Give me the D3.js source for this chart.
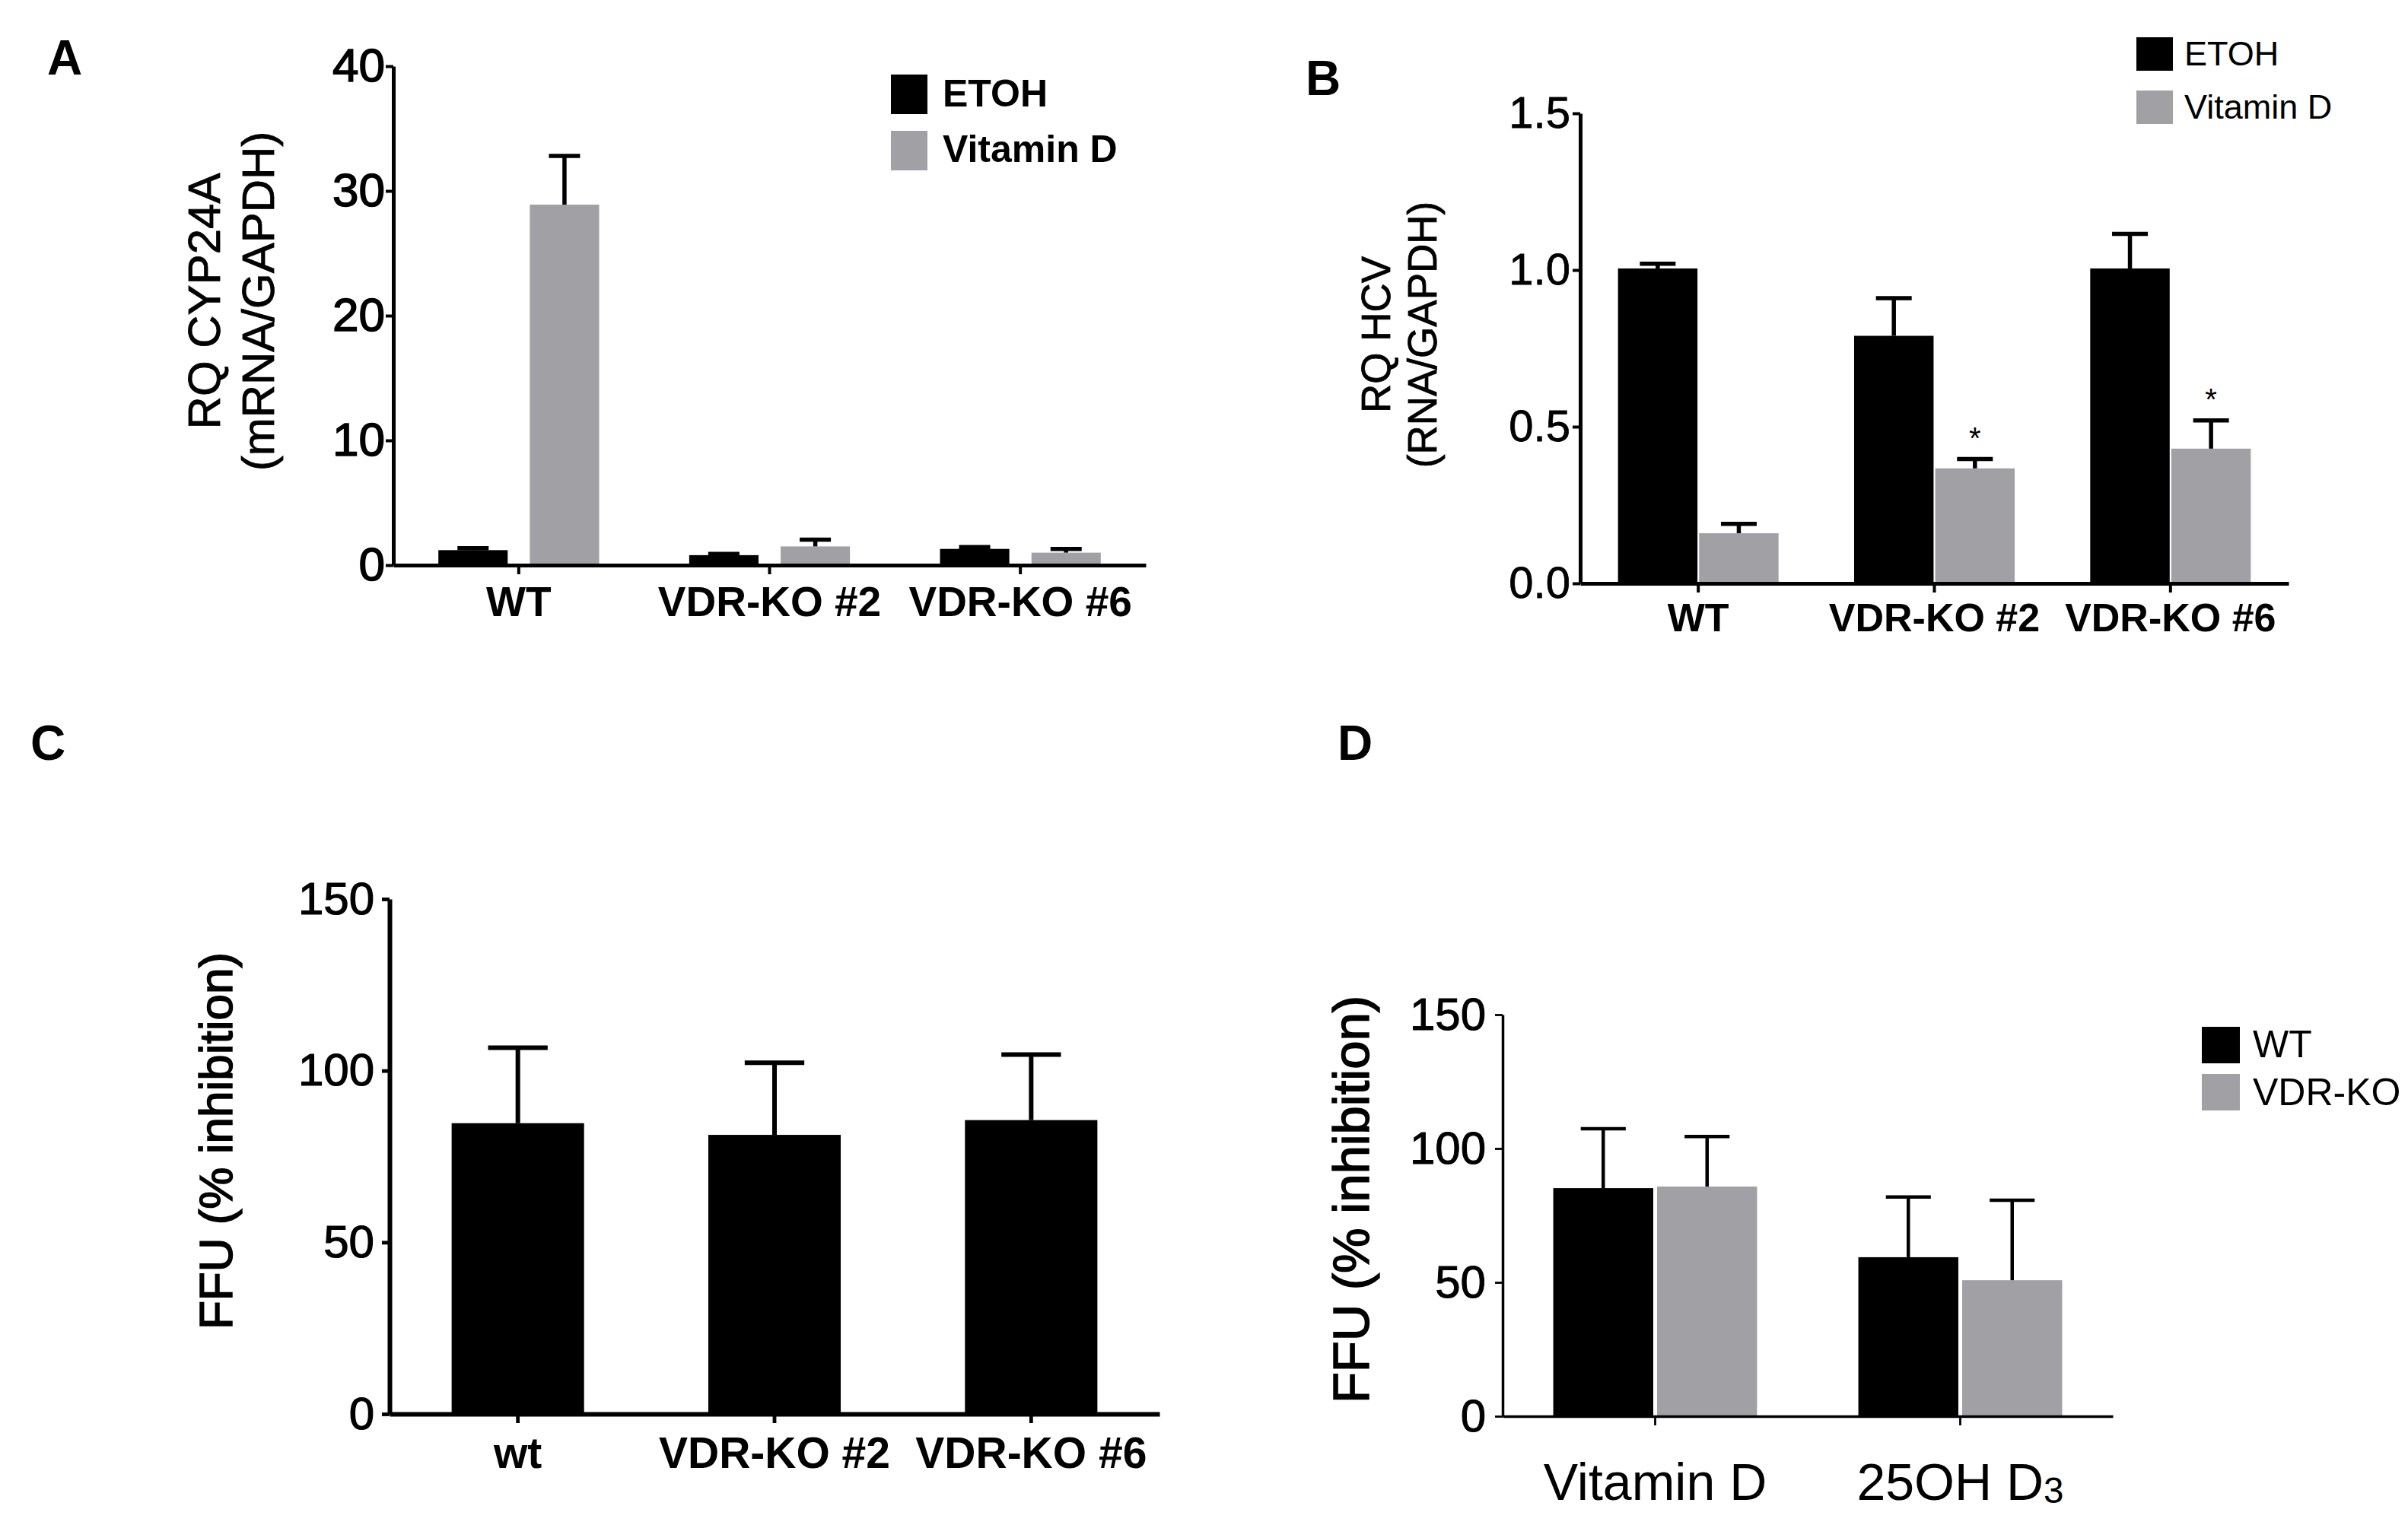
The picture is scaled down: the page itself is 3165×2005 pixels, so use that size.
<!DOCTYPE html>
<html>
<head>
<meta charset="utf-8">
<script src="https://cdn.jsdelivr.net/npm/d3@7/dist/d3.min.js"></script>
<style>
  html, body { margin: 0; padding: 0; background: #fff; }
  svg { display: block; }
  text { font-family: "Liberation Sans", Arial, sans-serif; fill: #000; }
</style>
</head>
<body>
<svg id="chart" width="3165" height="2005"></svg>
<script>
// ---------------- DATA ----------------
// Panel A: RQ CYP24A (mRNA/GAPDH)
const groupsA = ["WT", "VDR-KO #2", "VDR-KO #6"];
const etohA = [1.2, 0.8, 1.3];
const etohErrA = [0.15, 0.1, 0.15];
const vitDA = [28.9, 1.5, 1.0];
const vitDErrA = [3.9, 0.55, 0.3];
const ticksA = [0, 10, 20, 30, 40];

// Panel B: RQ HCV (RNA/GAPDH)
const groupsB = ["WT", "VDR-KO #2", "VDR-KO #6"];
const etohB = [1.005, 0.79, 1.005];
const etohErrB = [0.015, 0.12, 0.11];
const vitDB = [0.16, 0.367, 0.43];
const vitDErrB = [0.03, 0.03, 0.09];
const starsB = ["", "*", "*"];
const ticksB = [0, 0.5, 1.0, 1.5];

// Panel C: FFU (% inhibition)
const groupsC = ["wt", "VDR-KO #2", "VDR-KO #6"];
const valuesC = [84.7, 81.3, 85.6];
const errC = [22.0, 21.0, 19.1];
const ticksC = [0, 50, 100, 150];

// Panel D: FFU (% inhibition)
const groupsD = ["Vitamin D", "25OH D3"];
const wtD = [85.2, 59.4];
const wtErrD = [22.2, 22.5];
const koD = [85.8, 50.8];
const koErrD = [18.7, 29.9];
const ticksD = [0, 50, 100, 150];

const seriesAB = ["ETOH", "Vitamin D"];
const seriesD = ["WT", "VDR-KO"];

const BLACK = "#000000";
const GREY = "#a1a1a5";

// ---------------- DRAW ----------------
const svg = d3.select("#chart");
svg.append("rect").attr("width", 3165).attr("height", 2005).attr("fill", "#fff");

function drawPanel(o) {
  const g = svg.append("g");
  const y = d3.scaleLinear().domain(o.yDomain).range([o.yBottom, o.yTop]);
  const xg = d3.scaleBand().domain(o.groups).range([o.xLeft, o.xRight])
    .paddingInner(o.padG).paddingOuter(o.padG / 2);
  const xs = d3.scaleBand().domain(o.series.map(s => s.name)).range([0, xg.bandwidth()])
    .paddingInner(o.padS);

  // bars
  o.series.forEach(s => {
    const rows = o.groups.map((grp, i) => ({ grp, v: s.values[i], e: s.errs[i], star: s.stars ? s.stars[i] : "" }));
    g.append("g").selectAll("rect").data(rows).join("rect")
      .attr("x", d => xg(d.grp) + xs(s.name))
      .attr("width", xs.bandwidth())
      .attr("y", d => y(d.v))
      .attr("height", d => y(0) - y(d.v))
      .attr("fill", s.color);
    // error bars (upper only)
    const eb = g.append("g").attr("stroke", "#000").attr("stroke-width", o.errWidth).attr("fill", "none");
    rows.forEach(d => {
      const cx = xg(d.grp) + xs(s.name) + xs.bandwidth() / 2;
      const cw = xs.bandwidth() * 0.45;
      eb.append("line").attr("x1", cx).attr("x2", cx).attr("y1", y(d.v)).attr("y2", y(d.v + d.e));
      eb.append("line").attr("x1", cx - cw / 2).attr("x2", cx + cw / 2)
        .attr("y1", y(d.v + d.e)).attr("y2", y(d.v + d.e));
      if (d.star) {
        g.append("text").attr("x", cx).attr("y", y(d.v + d.e) - 39)
          .attr("text-anchor", "middle").attr("dominant-baseline", "central")
          .attr("font-size", 40).attr("dy", "0.28em").text(d.star);
      }
    });
  });

  // y axis
  const ya = g.append("g").attr("transform", `translate(${o.xLeft},0)`)
    .call(d3.axisLeft(y).tickValues(o.ticks).tickFormat(o.tickFormat)
      .tickSize(10).tickSizeOuter(0).tickPadding(o.tickPad));
  ya.select(".domain").attr("stroke-width", o.axisWidth).attr("stroke", "#000");
  ya.selectAll(".tick line").attr("stroke-width", o.axisWidth * 0.8).attr("stroke", "#000");
  ya.selectAll(".tick text").attr("font-size", o.tickFont).attr("font-family", "Liberation Sans, Arial, sans-serif")
    .attr("font-weight", "normal").attr("fill", "#000")
    .attr("stroke", "#000").attr("stroke-width", o.tickStroke || 0);

  // x axis
  const xa = g.append("g").attr("transform", `translate(0,${o.yBottom})`)
    .call(d3.axisBottom(xg).tickSize(12).tickSizeOuter(0).tickFormat(""));
  xa.select(".domain").attr("stroke-width", o.axisWidth).attr("stroke", "#000");
  xa.selectAll(".tick line").attr("stroke-width", o.axisWidth * 0.8).attr("stroke", "#000");
  xa.selectAll(".tick text").remove();

  // x labels
  o.groups.forEach((grp, i) => {
    const t = g.append("text").attr("x", xg(grp) + xg.bandwidth() / 2).attr("y", o.xLabelY)
      .attr("text-anchor", "middle").attr("font-size", o.xFont).attr("font-weight", o.xWeight);
    const m = grp.match(/^(.*D)3$/);
    if (m) {
      t.append("tspan").text(m[1]);
      t.append("tspan").attr("font-size", o.xFont * 0.7).attr("dy", 4).text("3");
    } else {
      t.text(grp);
    }
  });

  // y title
  const yc = o.yTitleY;
  o.yTitle.forEach((line, i) => {
    g.append("text")
      .attr("transform", `translate(${o.yTitleX[i]},${yc}) rotate(-90)`)
      .attr("text-anchor", "middle").attr("font-size", o.yTitleFont)
      .attr("stroke", "#000").attr("stroke-width", o.titleStroke || 0)
      .attr("font-weight", "normal").text(line);
  });

  // legend
  if (o.legend) {
    const L = o.legend;
    o.series.forEach((s, i) => {
      g.append("rect").attr("x", L.x).attr("y", L.ys[i]).attr("width", L.w).attr("height", L.h).attr("fill", s.color);
      g.append("text").attr("x", L.tx).attr("y", L.bases[i]).attr("font-size", L.font)
        .attr("font-weight", L.weight).text(s.name);
    });
  }

  // panel letter
  g.append("text").attr("x", o.letter.x).attr("y", o.letter.y)
    .attr("font-family", "Lato, 'Open Sans', sans-serif").attr("font-weight", "bold")
    .attr("font-size", 64).text(o.letter.t);
}

// Panel A
drawPanel({
  groups: groupsA,
  series: [
    { name: seriesAB[0], values: etohA, errs: etohErrA, color: BLACK },
    { name: seriesAB[1], values: vitDA, errs: vitDErrA, color: GREY }
  ],
  yDomain: [0, 40], ticks: ticksA, tickFormat: d3.format("d"),
  xLeft: 517, xRight: 1506, yBottom: 743, yTop: 87,
  padG: 0.359, padS: 0.242,
  axisWidth: 5, errWidth: 5.5, tickFont: 62, tickPad: 1, tickStroke: 1.5,
  xLabelY: 810, xFont: 55, xWeight: "bold",
  yTitle: ["RQ CYP24A", "(mRNA/GAPDH)"], yTitleX: [289, 360], yTitleY: 396, yTitleFont: 60, titleStroke: 0.8,
  legend: { x: 1171, ys: [98, 172], w: 48, h: 52, tx: 1239, bases: [140, 213], font: 50, weight: "bold" },
  letter: { x: 62, y: 98, t: "A" }
});

// Panel B
drawPanel({
  groups: groupsB,
  series: [
    { name: seriesAB[0], values: etohB, errs: etohErrB, color: BLACK },
    { name: seriesAB[1], values: vitDB, errs: vitDErrB, color: GREY, stars: starsB }
  ],
  yDomain: [0, 1.5], ticks: ticksB, tickFormat: d3.format(".1f"),
  xLeft: 2077, xRight: 3008, yBottom: 767, yTop: 149,
  padG: 0.32, padS: 0.02,
  axisWidth: 5, errWidth: 5.5, tickFont: 58, tickPad: 3, tickStroke: 0.8,
  xLabelY: 830, xFont: 52, xWeight: "bold",
  yTitle: ["RQ HCV", "(RNA/GAPDH)"], yTitleX: [1827, 1888], yTitleY: 440, yTitleFont: 53, titleStroke: 0.8,
  legend: { x: 2808, ys: [49, 119], w: 48, h: 44, tx: 2871, bases: [86, 156], font: 45, weight: "normal" },
  letter: { x: 1716, y: 125, t: "B" }
});

// Panel C
drawPanel({
  groups: groupsC,
  series: [
    { name: "FFU", values: valuesC, errs: errC, color: BLACK }
  ],
  yDomain: [0, 150], ticks: ticksC, tickFormat: d3.format("d"),
  xLeft: 512, xRight: 1524, yBottom: 1859, yTop: 1182,
  padG: 0.484, padS: 0,
  axisWidth: 6, errWidth: 6, tickFont: 60, tickPad: 10, tickStroke: 1.2,
  xLabelY: 1930, xFont: 57, xWeight: "bold",
  yTitle: ["FFU (% inhibition)"], yTitleX: [305], yTitleY: 1500, yTitleFont: 62, titleStroke: 1.5,
  letter: { x: 40, y: 999, t: "C" }
});

// Panel D
drawPanel({
  groups: groupsD,
  series: [
    { name: seriesD[0], values: wtD, errs: wtErrD, color: BLACK },
    { name: seriesD[1], values: koD, errs: koErrD, color: GREY }
  ],
  yDomain: [0, 150], ticks: ticksD, tickFormat: d3.format("d"),
  xLeft: 1975, xRight: 2777, yBottom: 1862, yTop: 1334,
  padG: 0.332, padS: 0.037,
  axisWidth: 3.5, errWidth: 4.5, tickFont: 60, tickPad: 12, tickStroke: 1,
  xLabelY: 1972, xFont: 68, xWeight: "normal",
  yTitle: ["FFU (% inhibition)"], yTitleX: [1799], yTitleY: 1577, yTitleFont: 67, titleStroke: 1.5,
  legend: { x: 2894, ys: [1350, 1412], w: 50, h: 48, tx: 2961, bases: [1390, 1453], font: 50, weight: "normal" },
  letter: { x: 1758, y: 999, t: "D" }
});
</script>
</body>
</html>
